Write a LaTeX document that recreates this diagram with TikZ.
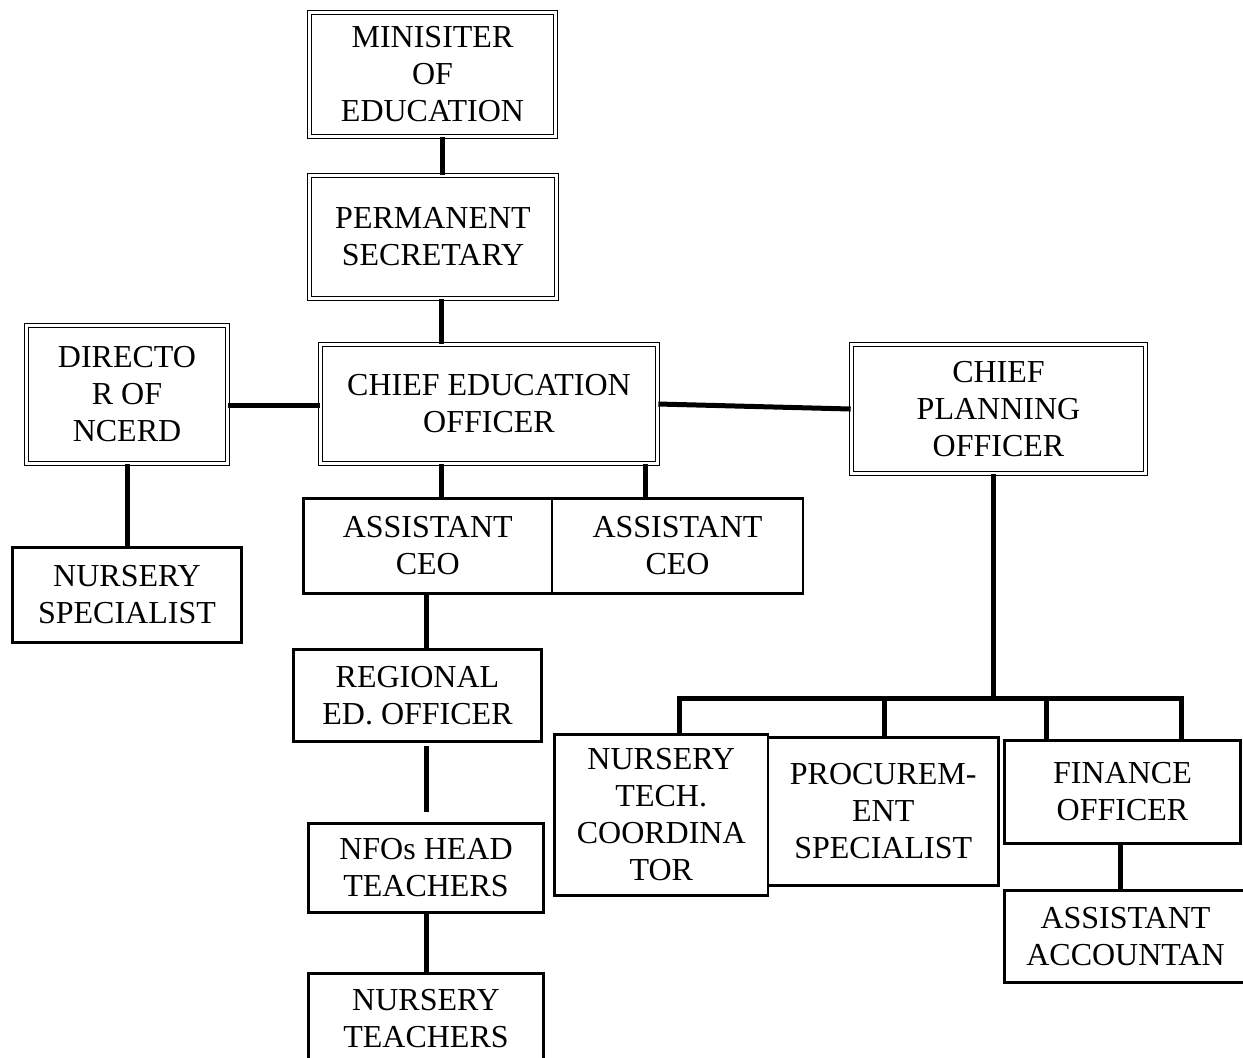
\documentclass[tikz,border=0pt]{standalone}
\usepackage{fontspec}
\setmainfont{Liberation Serif}
\tikzset{
	onode/.style={draw, line width=1.3pt, align=center, inner sep=2pt,
		font=\fontsize{16}{18.5}\selectfont},
	dnode/.style={draw, double, line width=0.8pt, double distance=1.1pt,
		align=center, inner sep=2pt, font=\fontsize{16}{18.5}\selectfont},
	oline/.style={line width=2.5pt}
}

\begin{document}
\begin{tikzpicture}[x=0.5pt, y=-0.5pt]
	\path[use as bounding box, fill=white] (0,0) rectangle (1243,1057);
	\node[dnode, minimum width=123pt, minimum height=62pt] (minister) at (432.5,74.5) {MINISITER\\OF\\EDUCATION};
	\node[dnode, minimum width=123.5pt, minimum height=61.5pt] (permsec) at (433,237) {PERMANENT\\SECRETARY};
	\node[dnode, minimum width=100.5pt, minimum height=69pt] (director) at (127,394.5) {DIRECTO\\R OF\\NCERD};
	\node[dnode, minimum width=168.5pt, minimum height=59.5pt] (ceo) at (489,404) {CHIEF EDUCATION\\OFFICER};
	\node[dnode, minimum width=147pt, minimum height=64.5pt] (cpo) at (998.5,409) {CHIEF\\PLANNING\\OFFICER};
	\node[onode, minimum width=124.25pt, minimum height=47.5pt] (aceoA) at (427.75,546) {ASSISTANT\\CEO};
	\node[onode, minimum width=125.5pt, minimum height=47.5pt] (aceoB) at (677.5,546) {ASSISTANT\\CEO};
	\node[onode, minimum width=114.5pt, minimum height=47.5pt] (nursspec) at (127,595) {NURSERY\\SPECIALIST};
	\node[onode, minimum width=124pt, minimum height=46pt] (regional) at (417.5,695.5) {REGIONAL\\ED. OFFICER};
	\node[onode, minimum width=117.5pt, minimum height=44.5pt] (nfos) at (426,868) {NFOs HEAD\\TEACHERS};
	\node[onode, minimum width=117.5pt, minimum height=45.5pt] (nteach) at (426,1019) {NURSERY\\TEACHERS};
	\node[onode, minimum width=106.75pt, minimum height=80.5pt] (ntc) at (661.25,815) {NURSERY\\TECH.\\COORDINA\\TOR};
	\node[onode, minimum width=115.25pt, minimum height=74pt] (procure) at (883.25,811.5) {PROCUREM-\\ENT\\SPECIALIST};
	\node[onode, minimum width=118pt, minimum height=51.5pt] (finance) at (1122.5,792) {FINANCE\\OFFICER};
	\node[onode, minimum width=121pt, minimum height=46pt] (asstacc) at (1125.5,936.5) {ASSISTANT\\ACCOUNTAN};
	\coordinate (plansplit) at (993,698);

	\draw[oline] ([xshift=4.75pt]minister.south) -- ([xshift=4.5pt]permsec.north);
	\draw[oline] ([xshift=4.25pt]permsec.south) -- ([xshift=-23.75pt]ceo.north);
	\draw[oline] ([yshift=-5.25pt]director.east) -- ([yshift=-0.5pt]ceo.west);
	\draw[oline] (ceo.east) -- (cpo.west);
	\draw[oline] (director.south) -- (nursspec.north);
	\draw[oline] ([xshift=-23.75pt]ceo.south) -- ([xshift=6.875pt]aceoA.north);
	\draw[oline] ([xshift=78pt]ceo.south) -- ([xshift=-16.25pt]aceoB.north);
	\draw[oline] ([xshift=-0.875pt]aceoA.south) -- ([xshift=4.25pt]regional.north);
	\draw[oline] ([xshift=4.25pt, yshift=-1.75pt]regional.south) -- ([yshift=5pt]nfos.north);
	\draw[oline] (nfos.south) -- (nteach.north);
	\draw[oline] ([xshift=-2.75pt]cpo.south) -- (plansplit);
	\draw[oline] ([xshift=8.875pt]ntc.north) |- (plansplit) -| ([xshift=29.25pt]finance.north);
	\draw[oline] ([xshift=0.375pt]procure.north) |- (plansplit);
	\draw[oline] ([xshift=-38.25pt]finance.north) |- (plansplit);
	\draw[oline] ([xshift=-1.25pt]finance.south) -- ([xshift=-1.25pt]finance.south |- asstacc.north);
\end{tikzpicture}
\end{document}
